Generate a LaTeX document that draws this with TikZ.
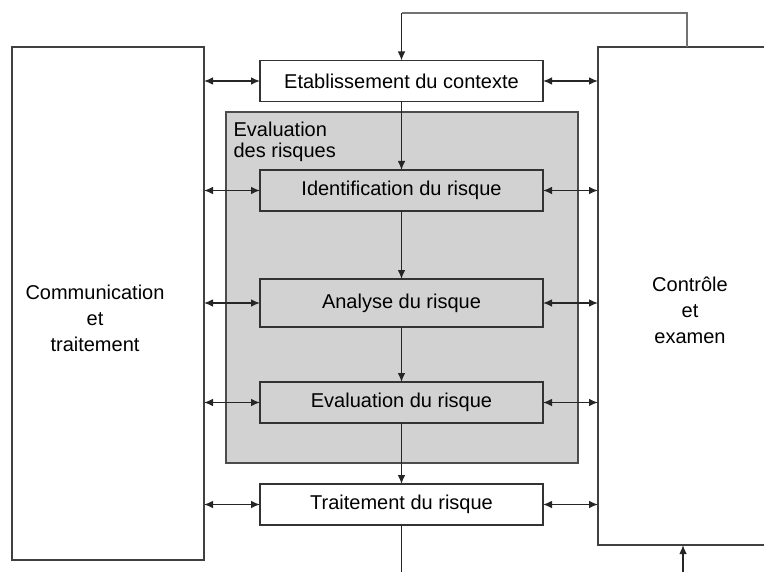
\documentclass[tikz,border=0pt]{standalone}
\usepackage{fontspec}
\setmainfont{Liberation Sans}
\usepackage{xcolor}
\usetikzlibrary{arrows.meta, positioning}

\begin{document}
\begin{tikzpicture}[
    x=0.5pt, y=-0.5pt,
    line width=0.6pt, draw=black!80,
    box/.style={rectangle, draw=black!80, inner sep=0pt, outer sep=0pt, minimum width=141.5pt, minimum height=20.5pt, font=\fontsize{10}{12}\selectfont},
    side/.style={rectangle, draw=black!75, inner sep=0pt, outer sep=0pt},
    sidetext/.style={align=center, inner sep=0pt, font=\fontsize{10}{13}\selectfont},
    arrow/.style={-{Latex[length=4.5pt, width=3.8pt]}, draw=black!85, line width=0.7pt},
    dblarrow/.style={{Latex[length=4.5pt, width=3.8pt]}-{Latex[length=4.5pt, width=3.8pt]}, draw=black!85, line width=0.7pt}
]
\useasboundingbox (0,0) rectangle (764,572);

% grey area
\node[rectangle, draw=black!70, fill=gray!35, inner sep=0pt, outer sep=0pt, minimum width=176pt, minimum height=175.5pt] (evalzone) at (402,287.5) {};
\node[anchor=north west, align=left, inner sep=0pt, font=\fontsize{10}{10.8}\selectfont] (evallabel) at (233,121) {Evaluation\\des risques};

% process chain
\node[box, fill=white] (ctx) at (401.5,81) {Etablissement du contexte};
\node[box, fill=gray!35] (ident) at (401.5,190.5) {Identification du risque};
\node[box, fill=gray!35, minimum height=24pt] (analyse) at (401.5,303) {Analyse du risque};
\node[box, fill=gray!35] (evalr) at (401.5,402.5) {Evaluation du risque};
\node[box, fill=white] (trait) at (401.5,504.5) {Traitement du risque};

% side boxes
\node[side, minimum width=96pt, minimum height=256.5pt] (comm) at (108,303.5) {};
\node[side, minimum width=92pt, minimum height=249pt] (ctrl) at (690,296) {};
\node[sidetext] (commtext) at (95,318) {Communication\\et\\traitement};
\node[sidetext] (ctrltext) at (690,310) {Contrôle\\et\\examen};

\coordinate (looptop) at (687,13);
\coordinate (loopleft) at (401.5,13);
\coordinate (downend) at (401.5,572);
\coordinate (upstart) at (683,572);

\draw[arrow] (ctx) -- (ident);
\draw[arrow] (ident) -- (analyse);
\draw[arrow] (analyse) -- (evalr);
\draw[arrow] (evalr) -- (trait);

% feedback loops
\draw[draw=black!55] (ctrl.north -| looptop) -- (looptop) -- (loopleft);
\draw[arrow] (loopleft) -- (ctx.north);
\draw[draw=black!85] (trait.south) -- (downend);
\draw[arrow] (upstart) -- (ctrl.south -| upstart);

\foreach \n in {ctx, ident, analyse, evalr, trait} {
    \draw[dblarrow] (comm.east |- \n.west) -- (\n.west);
    \draw[dblarrow] (\n.east) -- (ctrl.west |- \n.east);
}

\end{tikzpicture}
\end{document}
